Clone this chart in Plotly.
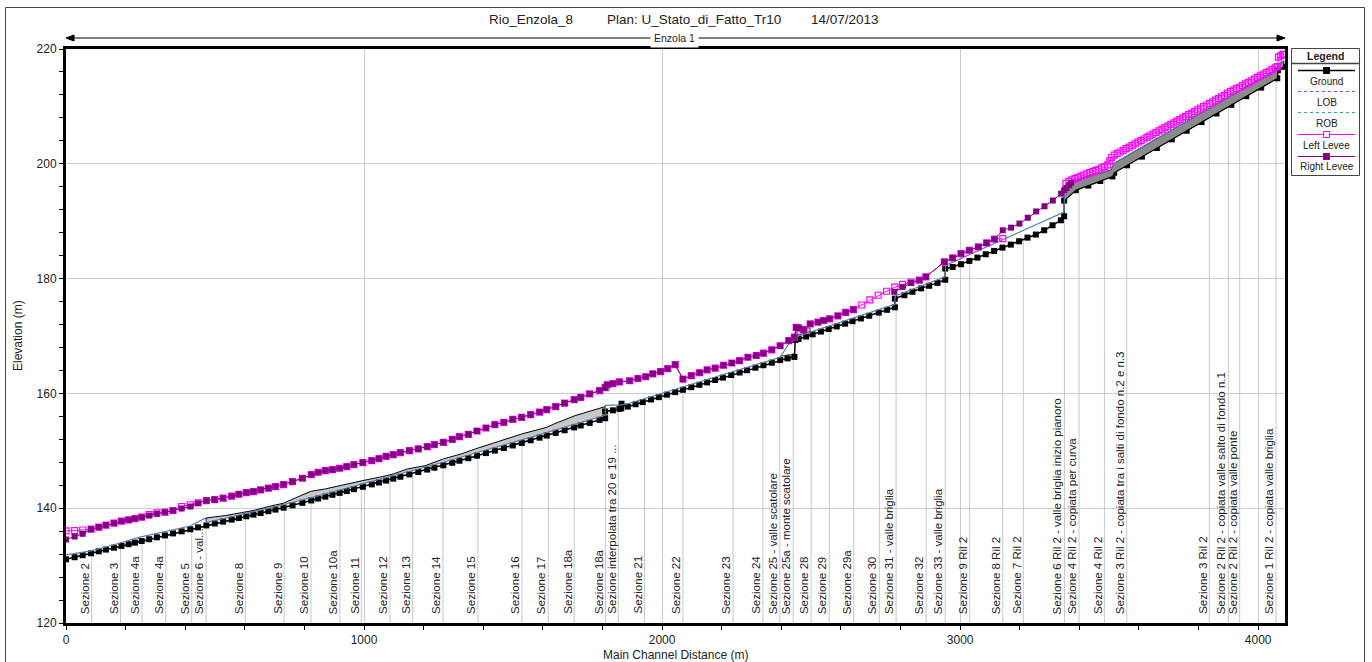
import numpy as np
import plotly.graph_objects as go

# ---------------- values ----------------
ground_station = [0, 29, 56, 84, 110, 134, 161, 186, 210, 231,
                  254, 279, 305, 332, 359, 388, 417, 443, 471, 499,
                  527, 556, 580, 605, 629, 653, 679, 703, 730, 760,
                  793, 823, 846, 870, 894, 918, 942, 966, 996, 1026,
                  1050, 1074, 1098, 1122, 1152, 1182, 1212, 1236, 1266, 1296,
                  1320, 1350, 1379, 1409, 1439, 1469, 1499, 1529, 1559, 1589,
                  1613, 1643, 1673, 1705, 1727, 1757, 1790, 1809, 1809, 1835,
                  1857, 1863, 1864, 1885, 1911, 1935, 1963, 1989, 2016, 2044,
                  2070, 2098, 2125, 2151, 2178, 2204, 2232, 2260, 2285, 2313,
                  2340, 2368, 2396, 2421, 2444, 2447, 2458, 2483, 2505, 2533,
                  2559, 2586, 2614, 2639, 2667, 2695, 2727, 2755, 2781, 2781,
                  2813, 2840, 2869, 2896, 2924, 2950, 2950, 2975, 3003, 3031,
                  3058, 3086, 3114, 3142, 3170, 3198, 3226, 3254, 3282, 3310,
                  3338, 3349, 3349, 3388, 3430, 3470, 3511, 3517, 3560, 3610,
                  3660, 3710, 3760, 3810, 3860, 3910, 3960, 4010, 4064, 4066,
                  4086]
ground_elev = [131.10, 131.46, 131.81, 132.15, 132.49, 132.79, 133.12, 133.43, 133.73, 134.00,
               134.29, 134.60, 134.93, 135.26, 135.61, 135.97, 136.33, 136.66, 137.00, 137.34,
               137.67, 138.01, 138.30, 138.59, 138.88, 139.16, 139.48, 139.76, 140.09, 140.50,
               140.94, 141.35, 141.68, 142.01, 142.34, 142.67, 142.99, 143.32, 143.73, 144.15,
               144.48, 144.81, 145.15, 145.48, 145.89, 146.31, 146.73, 147.06, 147.47, 147.91,
               148.27, 148.71, 149.15, 149.60, 150.04, 150.48, 150.93, 151.37, 151.83, 152.29,
               152.66, 153.12, 153.58, 154.08, 154.41, 154.87, 155.39, 155.68, 156.85, 157.05,
               157.30, 157.40, 158.20, 157.70, 158.11, 158.49, 158.94, 159.35, 159.78, 160.22,
               160.63, 161.08, 161.50, 161.92, 162.34, 162.75, 163.20, 163.64, 164.04, 164.48,
               164.91, 165.35, 165.80, 166.10, 166.35, 169.30, 169.49, 169.91, 170.29, 170.77,
               171.21, 171.67, 172.15, 172.58, 173.06, 173.53, 174.08, 174.56, 175.00, 176.50,
               177.10, 177.70, 178.30, 178.75, 179.25, 179.80, 181.75, 182.03, 182.50, 183.08,
               183.66, 184.24, 184.82, 185.40, 185.92, 186.50, 187.14, 187.67, 188.42, 189.29,
               190.16, 190.86, 193.60, 195.40, 196.20, 197.00, 197.80, 198.45, 199.74, 201.25,
               202.75, 204.26, 205.76, 207.27, 208.77, 210.28, 211.78, 213.28, 214.90, 216.30,
               216.90]

levee_station = [0, 29, 56, 84, 110, 134, 161, 186, 210, 231,
                 254, 279, 305, 332, 359, 388, 417, 443, 471, 499,
                 527, 556, 580, 605, 629, 653, 679, 703, 730, 760,
                 793, 823, 846, 870, 894, 918, 942, 966, 996, 1026,
                 1050, 1074, 1098, 1122, 1152, 1182, 1212, 1236, 1266, 1296,
                 1320, 1350, 1379, 1409, 1439, 1469, 1499, 1529, 1559, 1589,
                 1613, 1643, 1673, 1705, 1727, 1757, 1790, 1809, 1816, 1835,
                 1857, 1891, 1919, 1945, 1969, 1995, 2019, 2044, 2070, 2098,
                 2126, 2151, 2178, 2206, 2234, 2260, 2288, 2316, 2340, 2368,
                 2396, 2425, 2444, 2450, 2458, 2475, 2497, 2523, 2542, 2562,
                 2590, 2616, 2642]
right_levee_main = [134.55, 135.07, 135.54, 136.35, 136.70, 137.04, 137.40, 137.74, 137.97, 138.20,
                    138.43, 138.72, 139.01, 139.30, 139.60, 139.94, 140.29, 140.87, 141.33, 141.50,
                    141.74, 142.09, 142.43, 142.72, 142.90, 143.19, 143.48, 143.77, 144.12, 144.64,
                    145.22, 145.86, 146.26, 146.55, 146.72, 146.96, 147.25, 147.59, 147.94, 148.29,
                    148.64, 149.04, 149.33, 149.68, 150.03, 150.32, 150.72, 151.07, 151.48, 152.00,
                    152.46, 152.87, 153.45, 153.97, 154.55, 154.96, 155.48, 155.83, 156.29, 156.75,
                    157.16, 157.70, 158.30, 158.90, 159.30, 159.90, 160.50, 161.00, 161.50, 161.70,
                    162.00, 162.20, 162.60, 162.90, 163.40, 163.80, 164.30, 165.00, 162.50, 163.10,
                    163.60, 164.10, 164.40, 164.90, 165.30, 165.70, 166.30, 166.60, 167.00, 167.60,
                    168.30, 169.20, 169.80, 171.50, 171.40, 171.10, 172.10, 172.40, 172.70, 173.00,
                    173.50, 174.10, 174.60]
left_levee_main = [136.05, 136.10, 136.20, 136.35, 136.70, 137.04, 137.40, 137.74, 137.97, 138.20,
                   138.43, 138.90, 139.20, 139.30, 139.60, 140.30, 140.60, 140.95, 141.33, 141.50,
                   141.74, 142.09, 142.43, 142.72, 142.90, 143.19, 143.48, 143.77, 144.12, 144.64,
                   145.22, 145.86, 146.26, 146.55, 146.72, 146.96, 147.25, 147.59, 147.94, 148.29,
                   148.64, 149.04, 149.33, 149.68, 150.03, 150.32, 150.72, 151.07, 151.48, 152.00,
                   152.46, 152.87, 153.45, 153.97, 154.55, 154.96, 155.48, 155.83, 156.29, 156.75,
                   157.16, 157.70, 158.30, 158.90, 159.30, 159.90, 160.50, 161.00, 161.50, 161.70,
                   162.00, 162.20, 162.60, 162.90, 163.40, 163.80, 164.30, 165.00, 162.50, 163.10,
                   163.60, 164.10, 164.40, 164.90, 165.30, 165.70, 166.30, 166.60, 167.00, 167.60,
                   168.30, 169.20, 169.80, 171.50, 171.40, 171.10, 172.10, 172.40, 172.70, 173.00,
                   173.50, 174.10, 174.60]

right_levee_up_station = [2779, 2807, 2835, 2863, 2885, 2947, 2975, 3003, 3031, 3061,
                          3089, 3115, 3143, 3171, 3199, 3227, 3255, 3283, 3311, 3339,
                          3349, 3357, 3366, 3372]
right_levee_up = [177.70, 178.55, 179.25, 179.70, 180.30, 182.90, 183.60, 184.36, 184.94, 185.52,
                  186.21, 186.85, 188.42, 188.88, 189.58, 190.60, 191.70, 192.60, 193.60, 194.80,
                  195.40, 195.80, 196.30, 196.70]

left_levee_up_station = [2670, 2697, 2725, 2753, 2781, 2807, 2835, 2863, 2885, 2947,
                         2975, 3003, 3031, 3061, 3089, 3115, 3143]
left_levee_up = [175.40, 176.30, 177.10, 177.80, 178.50, 179.00, 179.40, 179.75, 180.30, 182.90,
                 183.60, 184.36, 184.94, 185.52, 186.21, 186.90, 186.95]

left_levee_top_station = [3355, 3365, 3375, 3385, 3395, 3405, 3415, 3425, 3435, 3445,
                          3455, 3465, 3475, 3485, 3495, 3502, 3508, 3517, 3527, 3537,
                          3547, 3557, 3567, 3577, 3587, 3597, 3607, 3617, 3627, 3637,
                          3647, 3657, 3667, 3677, 3687, 3697, 3707, 3717, 3727, 3737,
                          3747, 3757, 3767, 3777, 3787, 3797, 3807, 3817, 3827, 3837,
                          3847, 3857, 3867, 3877, 3887, 3897, 3907, 3917, 3927, 3937,
                          3947, 3957, 3967, 3977, 3987, 3997, 4007, 4017, 4027, 4037,
                          4047, 4057, 4064, 4068, 4075, 4082, 4086]
left_levee_top = [196.60, 196.95, 197.20, 197.40, 197.60, 197.85, 198.05, 198.25, 198.45, 198.65,
                  198.85, 199.05, 199.30, 199.50, 199.80, 200.50, 201.10, 201.50, 201.78, 202.06,
                  202.35, 202.63, 202.91, 203.19, 203.47, 203.76, 204.04, 204.32, 204.60, 204.88,
                  205.17, 205.45, 205.73, 206.01, 206.29, 206.58, 206.86, 207.14, 207.42, 207.70,
                  207.99, 208.27, 208.55, 208.83, 209.11, 209.40, 209.68, 209.96, 210.24, 210.52,
                  210.81, 211.09, 211.37, 211.65, 211.93, 212.30, 212.60, 212.85, 213.10, 213.34,
                  213.63, 213.91, 214.19, 214.47, 214.75, 215.04, 215.32, 215.60, 215.88, 216.16,
                  216.45, 216.73, 216.92, 218.60, 218.80, 219.00, 219.10]

bank_station = [0, 80, 152, 248, 416, 469, 471, 730, 823, 996,
                1266, 1529, 1809, 1810, 1863, 1885, 2396, 2440, 2452, 2781,
                2782, 2950, 2951, 3349, 3350, 3388, 3505, 3517, 4064, 4066, 4086]
bank_elev = [131.85, 132.52, 133.50, 134.96, 136.90, 138.30, 137.50, 140.60, 141.85, 144.25,
             148.00, 151.90, 156.20, 157.90, 158.00, 158.20, 166.30, 169.80, 169.90, 175.50,
             177.00, 180.30, 182.30, 191.60, 195.00, 197.20, 198.90, 200.10, 216.50, 217.40, 217.90]

band_top_station = [471, 535, 631, 679, 730, 775, 823, 870, 918, 966,
                    996, 1062, 1098, 1146, 1206, 1266, 1326, 1373, 1445, 1529,
                    1613, 1637, 1708, 1790, 1809]
band_top_elev = [138.30, 138.72, 139.62, 140.29, 140.87, 141.91, 142.96, 143.36, 143.94, 144.52,
                 144.81, 145.51, 145.97, 146.84, 147.42, 148.58, 149.45, 150.32, 151.48, 152.93,
                 154.09, 154.67, 156.12, 157.45, 157.70]
band_bot_station = [471, 730, 823, 996, 1266, 1529, 1809]
band_bot_elev = [137.50, 140.60, 141.85, 144.25, 148.00, 151.90, 156.20]

dark_top_station = [3349, 3388, 3505, 3517, 4064, 4066, 4086]
dark_top_elev = [195.00, 197.20, 198.90, 200.10, 216.50, 217.40, 217.90]
dark_bot_station = [3349, 3388, 3511, 3517, 4064, 4066, 4086]
dark_bot_elev = [193.60, 195.40, 197.80, 198.45, 214.90, 216.30, 216.90]

culvert_station = [2396, 2444, 2444, 2396, 2396, None, 2452, 2497, 2497, 2452, 2452]
culvert_elev = [165.80, 166.35, 166.90, 166.50, 165.80, None, 170.10, 170.80, 171.40, 171.40, 170.10]

sec_station = [86, 183, 255, 335, 422, 470, 602, 732, 822, 919,
               991, 1087, 1163, 1265, 1382, 1530, 1618, 1705, 1810, 1853,
               1941, 2070, 2238, 2338, 2395, 2440, 2500, 2561, 2643, 2729,
               2785, 2886, 2950, 3032, 3143, 3212, 3350, 3399, 3484, 3559,
               3836, 3900, 3938, 4060]
sec_name = ["Sezione 2", "Sezione 3", "Sezione 4a", "Sezione 4a", "Sezione 5",
            "Sezione 6 - val...", "Sezione 8", "Sezione 9", "Sezione 10", "Sezione 10a",
            "Sezione 11", "Sezione 12", "Sezione 13", "Sezione 14", "Sezione 15",
            "Sezione 16", "Sezione 17", "Sezione 18a", "Sezione 18a",
            "Sezione interpolata tra 20 e 19 ...",
            "Sezione 21", "Sezione 22", "Sezione 23", "Sezione 24",
            "Sezione 25 - valle scatolare", "Sezione 25a - monte scatolare",
            "Sezione 28", "Sezione 29", "Sezione 29a", "Sezione 30",
            "Sezione 31 - valle briglia", "Sezione 32", "Sezione 33 - valle briglia",
            "Sezione 9 Ril 2", "Sezione 8 Ril 2", "Sezione 7 Ril 2",
            "Sezione 6 Ril 2 - valle briglia inizio pianoro",
            "Sezione 4 Ril 2 - copiata per curva", "Sezione 4 Ril 2",
            "Sezione 3 Ril 2 - copiata tra i salti di fondo n.2 e n.3",
            "Sezione 3 Ril 2",
            "Sezione 2 Ril 2 - copiata valle salto di fondo n.1",
            "Sezione 2 Ril 2 - copiata valle ponte",
            "Sezione 1 Ril 2 - copiata valle briglia"]

x_tick_vals = [0, 1000, 2000, 3000, 4000]
y_tick_vals = [120, 140, 160, 180, 200, 220]
legend_names = ["Ground", "LOB", "ROB", "Left Levee", "Right Levee"]

title_parts = ["Rio_Enzola_8", "Plan: U_Stato_di_Fatto_Tr10", "14/07/2013"]
reach_name = "Enzola 1"

# ---------------- styling ----------------
C_GROUND = "black"
C_LL = "#ff00ff"
C_RL = "#800080"
C_LOB = "#b040b0"
C_ROB = "#30a8a8"
C_BANK = "#5a7bac"
C_GRID = "#cccccc"
REG = "Liberation Sans, Arial, sans-serif"
NAR = "Liberation Sans Narrow, Arial Narrow, Liberation Sans, sans-serif"

W, H = 1372, 662
PL, PR, PT, PB = 66, 1285, 49, 623


def fx(px):
    return (px - PL) / (PR - PL)


def fy(py):
    return (PB - py) / (PB - PT)


fig = go.Figure()

# section reference lines (from the axis up to the ground)
sec_top = np.interp(sec_station, ground_station, ground_elev)
lx, ly = [], []
for s, t in zip(sec_station, sec_top):
    lx += [s, s, None]
    ly += [120, float(t), None]
fig.add_trace(go.Scatter(x=lx, y=ly, mode="lines", line=dict(color="#c8c8c8", width=1),
                         hoverinfo="skip"))

# light grey band
poly_x = band_top_station + band_bot_station[::-1]
poly_y = band_top_elev + band_bot_elev[::-1]
fig.add_trace(go.Scatter(x=poly_x, y=poly_y, mode="lines", fill="toself",
                         fillcolor="#c8c8c8", line=dict(width=0), hoverinfo="skip"))
fig.add_trace(go.Scatter(x=[band_top_station[0]] + band_top_station + [band_top_station[-1]],
                         y=[float(np.interp(band_top_station[0], ground_station, ground_elev))]
                         + band_top_elev
                         + [float(np.interp(band_top_station[-1] - 0.5, ground_station, ground_elev))],
                         mode="lines", line=dict(color="black", width=1), hoverinfo="skip"))

# culvert pieces
fig.add_trace(go.Scatter(x=culvert_station, y=culvert_elev, mode="lines", fill="toself",
                         fillcolor="#c0c0c0", line=dict(color="#333333", width=0.8),
                         hoverinfo="skip"))

# ground
fig.add_trace(go.Scatter(x=ground_station, y=ground_elev, mode="lines+markers", name="Ground",
                         line=dict(color=C_GROUND, width=1.5),
                         marker=dict(symbol="square", size=6, color=C_GROUND)))

# dark band at the upper reach
dpx = dark_top_station + dark_bot_station[::-1] + [dark_top_station[0]]
dpy = dark_top_elev + dark_bot_elev[::-1] + [dark_top_elev[0]]
fig.add_trace(go.Scatter(x=dpx, y=dpy, mode="lines", fill="toself", fillcolor="#8a8a8a",
                         line=dict(color="black", width=1), hoverinfo="skip"))

# bank line (LOB / ROB)
fig.add_trace(go.Scatter(x=bank_station, y=bank_elev, mode="lines", name="LOB/ROB",
                         line=dict(color=C_BANK, width=1.2)))

# levees
ll_x = levee_station + left_levee_up_station + [None] + left_levee_top_station
ll_y = left_levee_main + left_levee_up + [None] + left_levee_top
fig.add_trace(go.Scatter(x=ll_x, y=ll_y, mode="lines+markers", name="Left Levee",
                         line=dict(color=C_LL, width=1),
                         marker=dict(symbol="square-open", size=6, color=C_LL,
                                     line=dict(width=1.2, color=C_LL))))
rl_x = levee_station + [None] + right_levee_up_station
rl_y = right_levee_main + [None] + right_levee_up
fig.add_trace(go.Scatter(x=rl_x, y=rl_y, mode="lines+markers", name="Right Levee",
                         line=dict(color=C_RL, width=1),
                         marker=dict(symbol="square", size=6, color=C_RL)))

annotations = []
for s, name in zip(sec_station, sec_name):
    annotations.append(dict(x=s, y=fy(615), xref="x", yref="paper", text=name,
                            textangle=-90, showarrow=False, xanchor="right",
                            yanchor="bottom", borderpad=0,
                            font=dict(family=REG, size=11.5, color="#222222")))

# title
for txt, px in zip(title_parts, [486.5, 604.5, 808.5]):
    annotations.append(dict(x=fx(px), y=fy(19.5), xref="paper", yref="paper", text=txt,
                            showarrow=False, xanchor="left", yanchor="middle",
                            font=dict(family=REG, size=13.5, color="#222222")))
annotations.append(dict(x=fx(674), y=fy(38), xref="paper", yref="paper", text=reach_name,
                        showarrow=False, xanchor="center", yanchor="middle",
                        bgcolor="white", borderpad=3,
                        font=dict(family=NAR, size=10.5, color="#222222")))
# axis titles
annotations.append(dict(x=fx(675.5), y=fy(655), xref="paper", yref="paper",
                        text="Main Channel Distance (m)", showarrow=False,
                        xanchor="center", yanchor="middle",
                        font=dict(family=NAR, size=12, color="#222222")))
annotations.append(dict(x=fx(18), y=fy(336), xref="paper", yref="paper",
                        text="Elevation (m)", showarrow=False, textangle=-90,
                        xanchor="center", yanchor="middle",
                        font=dict(family=NAR, size=12, color="#222222")))

shapes = []
# outer frame
shapes.append(dict(type="rect", xref="paper", yref="paper", x0=fx(5.5), x1=fx(1364.5),
                   y0=fy(668), y1=fy(7.5), line=dict(color="#444444", width=1)))
# reach arrow
shapes.append(dict(type="line", xref="paper", yref="paper", x0=fx(70), x1=fx(1281),
                   y0=fy(38), y1=fy(38), line=dict(color="black", width=1)))
shapes.append(dict(type="path", xref="paper", yref="paper",
                   path=f"M {fx(66)},{fy(38)} L {fx(74)},{fy(35)} L {fx(74)},{fy(41)} Z",
                   fillcolor="black", line=dict(color="black", width=1)))
shapes.append(dict(type="path", xref="paper", yref="paper",
                   path=f"M {fx(1285)},{fy(38)} L {fx(1277)},{fy(35)} L {fx(1277)},{fy(41)} Z",
                   fillcolor="black", line=dict(color="black", width=1)))

# legend box
LX0, LX1, LY0, LY1 = 1291.5, 1359.5, 48.5, 175.5
shapes.append(dict(type="rect", xref="paper", yref="paper", x0=fx(LX0), x1=fx(LX1),
                   y0=fy(LY1), y1=fy(LY0), line=dict(color="#444444", width=1),
                   fillcolor="white"))
shapes.append(dict(type="line", xref="paper", yref="paper", x0=fx(LX0), x1=fx(LX1),
                   y0=fy(63.5), y1=fy(63.5), line=dict(color="#444444", width=1.5)))
annotations.append(dict(x=fx(1325.5), y=fy(56), xref="paper", yref="paper",
                        text="<b>Legend</b>", showarrow=False, xanchor="center",
                        yanchor="middle", font=dict(family=REG, size=10.5, color="#222222")))
leg_line_y = [70.5, 91.5, 112.5, 134.5, 156.5]
leg_text_y = [81.5, 102.5, 123.5, 145.5, 166.5]
leg_styles = [dict(color=C_GROUND, width=1.5), dict(color=C_LOB, width=1, dash="dot"),
              dict(color=C_ROB, width=1, dash="dot"), dict(color=C_LL, width=1),
              dict(color=C_RL, width=1)]
for name, ly_, ty_, st in zip(legend_names, leg_line_y, leg_text_y, leg_styles):
    shapes.append(dict(type="line", xref="paper", yref="paper", x0=fx(1298), x1=fx(1355),
                       y0=fy(ly_), y1=fy(ly_), line=st))
    annotations.append(dict(x=fx(1326.5), y=fy(ty_), xref="paper", yref="paper", text=name,
                            showarrow=False, xanchor="center", yanchor="middle",
                            font=dict(family=REG, size=10, color="#222222")))
# legend marker squares
for ly_, fc, lc in [(70.5, C_GROUND, C_GROUND), (134.5, "white", C_LL), (156.5, C_RL, C_RL)]:
    shapes.append(dict(type="rect", xref="paper", yref="paper", x0=fx(1323.5), x1=fx(1329.5),
                       y0=fy(ly_ + 3), y1=fy(ly_ - 3), fillcolor=fc,
                       line=dict(color=lc, width=1)))

fig.update_layout(
    width=W, height=H,
    margin=dict(l=PL, r=W - PR, t=PT, b=H - PB),
    paper_bgcolor="white", plot_bgcolor="white",
    showlegend=False,
    font=dict(family=REG, size=11, color="#222222"),
    annotations=annotations, shapes=shapes,
    xaxis=dict(range=[0, 4090], tickvals=x_tick_vals, showgrid=True, gridcolor=C_GRID,
               gridwidth=1, zeroline=False, showline=True, linecolor="black", linewidth=3,
               mirror=True, ticks="outside", ticklen=4, tickcolor="black",
               tickfont=dict(family=NAR, size=12, color="#222222"),
               minor=dict(dtick=200, tick0=0, ticks="outside", ticklen=4, tickcolor="black",
                          showgrid=False)),
    yaxis=dict(range=[120, 220], tickvals=y_tick_vals, showgrid=True, gridcolor=C_GRID,
               gridwidth=1, zeroline=False, showline=True, linecolor="black", linewidth=3,
               mirror=True, ticks="outside", ticklen=4, tickcolor="black",
               tickfont=dict(family=NAR, size=12, color="#222222"),
               minor=dict(dtick=4, tick0=120, ticks="outside", ticklen=4, tickcolor="black",
                          showgrid=False)),
)

fig.write_html("out.html", config={"displayModeBar": False},
               post_script="document.body.style.margin='0';")
